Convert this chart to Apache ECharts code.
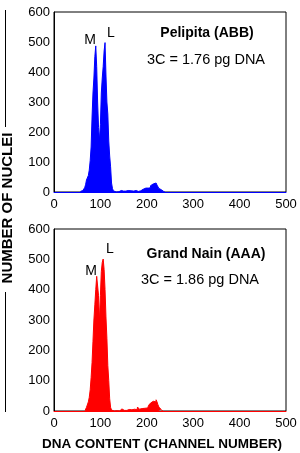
<!DOCTYPE html>
<html><head><meta charset="utf-8">
<script src="https://cdn.jsdelivr.net/npm/echarts@6/dist/echarts.min.js"></script>
<style>html,body{margin:0;padding:0;background:#fff}#c{width:300px;height:453px}</style>
</head><body><div id="c"></div>
<script>
// Histogram bins: 2 channels wide, starting channel given
const binWidth = 2;
const pelipitaStart = 56;
const pelipitaCounts = [2,3,5,6,10,14,24,40,38,55,73,105,150,250,330,380,451,487,418,300,215,173,225,330,380,418,470,498,390,300,260,170,120,84,30,12,4,2,0,3,2,1,4,6,5,2,3,4,2,3,6,5,7,3,4,6,2,3,8,6,5,3,2,6,4,4,8,9,10,13,13,12,14,13,15,14,21,24,27,30,32,30,29,23,22,12,10,7,5,3,1,0];
const grandNainStart = 66;
const grandNainCounts = [2,4,12,15,30,45,70,110,160,230,300,350,400,444,450,380,296,380,460,490,501,466,400,310,240,150,100,40,12,3,4,0,2,5,1,4,3,0,2,3,7,6,2,3,0,2,3,3,5,5,4,7,3,6,5,6,4,13,12,6,7,8,6,9,9,8,9,10,9,19,19,26,26,32,37,37,30,37,30,21,13,7,5,3,0];
const xTicks = [0,100,200,300,400,500];
const yTicks = [0,100,200,300,400,500,600];
const topTitle = 'Pelipita (ABB)';
const topNote = '3C = 1.76 pg DNA';
const botTitle = 'Grand Nain (AAA)';
const botNote = '3C = 1.86 pg DNA';
const yTitle = 'NUMBER OF NUCLEI';
const xTitle = 'DNA CONTENT (CHANNEL NUMBER)';

function toPoints(start, counts){ return counts.map((v,i)=>[start + i*binWidth + binWidth/2, v]); }

const FONT = '"Liberation Sans", Arial, sans-serif';
const chart = echarts.init(document.getElementById('c'), null, {renderer:'canvas'});
function xAx(idx, color){
  return {type:'value', gridIndex:idx, min:xTicks[0], max:xTicks[xTicks.length-1], interval:100,
    axisLine:{show:true, onZero:false, lineStyle:{color:color, width:1}}, axisTick:{show:false}, splitLine:{show:false},
    axisLabel:{color:'#000', fontSize:13, fontFamily:FONT, margin:6}};
}
function yAx(idx){
  return {type:'value', gridIndex:idx, min:yTicks[0], max:yTicks[yTicks.length-1], interval:100,
    axisLine:{show:true, lineStyle:{color:'#000', width:1}}, axisTick:{show:false}, splitLine:{show:false},
    axisLabel:{color:'#000', fontSize:13, fontFamily:FONT, margin:4}};
}
function txt(x,y,s,opts){
  return Object.assign({type:'text', x:x, y:y, style:Object.assign({text:s, fill:'#000', font:'14px '+FONT, textAlign:'center', textVerticalAlign:'middle'}, opts||{})});
}
chart.setOption({
  animation:false,
  grid:[
    {left:54, top:12, width:232, height:180, show:true, borderColor:'#000', borderWidth:1, backgroundColor:'transparent'},
    {left:54, top:229, width:232, height:182, show:true, borderColor:'#000', borderWidth:1, backgroundColor:'transparent'}
  ],
  xAxis:[xAx(0,'#0000ff'), xAx(1,'#ff0000')],
  yAxis:[yAx(0), yAx(1)],
  series:[
    {type:'line', xAxisIndex:0, yAxisIndex:0, step:'middle', symbol:'none', data:toPoints(pelipitaStart, pelipitaCounts),
      lineStyle:{color:'#0000ff', width:1}, areaStyle:{color:'#0000ff', opacity:1}},
    {type:'line', xAxisIndex:1, yAxisIndex:1, step:'middle', symbol:'none', data:toPoints(grandNainStart, grandNainCounts),
      lineStyle:{color:'#ff0000', width:1}, areaStyle:{color:'#ff0000', opacity:1}}
  ],
  graphic:[
    txt(90,40.5,'M'), txt(111,33,'L'),
    txt(207,33,topTitle,{font:'bold 14px '+FONT}),
    txt(206,60,topNote,{font:'14.5px '+FONT}),
    txt(91,271,'M'), txt(110,249,'L'),
    txt(206,254,botTitle,{font:'bold 14px '+FONT}),
    txt(200,280,botNote,{font:'14.5px '+FONT}),
    txt(162,444,xTitle,{font:'bold 13.5px '+FONT}),
    {type:'text', x:7.5, y:208, rotation:Math.PI/2, style:{text:yTitle, fill:'#000', font:'bold 15px '+FONT, textAlign:'center', textVerticalAlign:'middle'}},
    {type:'line', shape:{x1:5.5, y1:10, x2:5.5, y2:127}, style:{stroke:'#000', lineWidth:1}},
    {type:'line', shape:{x1:5.5, y1:292, x2:5.5, y2:412}, style:{stroke:'#000', lineWidth:1}}
  ]
});
</script></body></html>
